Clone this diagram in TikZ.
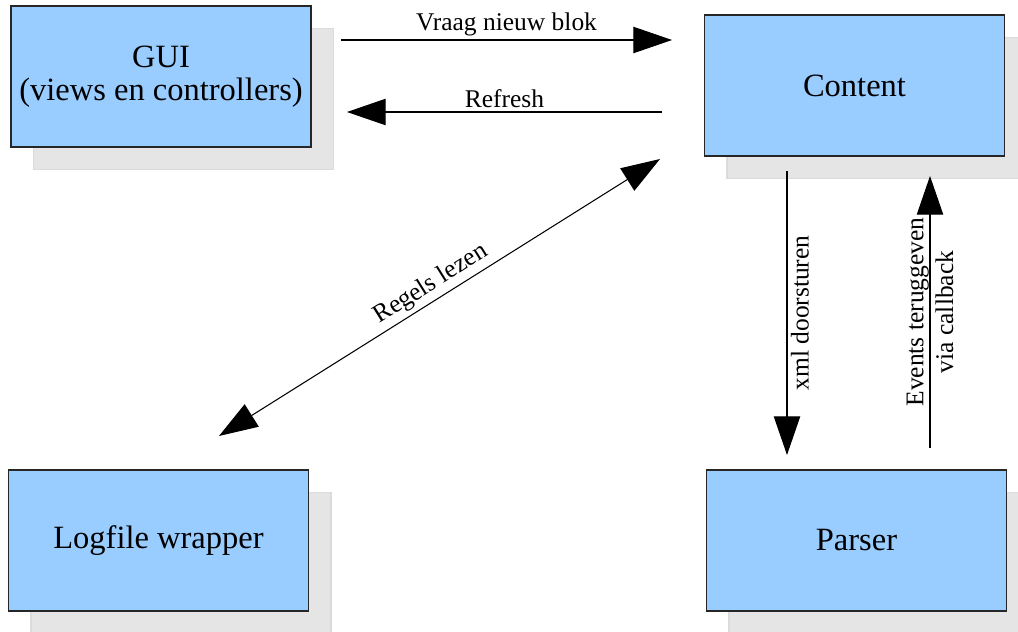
\documentclass[tikz,border=0pt]{standalone}
\usepackage{fontspec}
\setmainfont{Liberation Serif}
\usetikzlibrary{arrows.meta,shadows}
\definecolor{blokblauw}{HTML}{99CCFF}
\tikzset{
  blok/.style={draw=black!85, fill=blokblauw, line width=0.8pt, minimum width=6cm, minimum height=2.82cm, align=center, font=\fontsize{18.5}{19}\selectfont, drop shadow={shadow xshift=0.45cm, shadow yshift=-0.45cm, fill=black!10, draw=black!14, opacity=1}},
  pijl/.style={line width=0.6pt, -{Triangle[length=22pt,width=15pt]}},
  dubbelpijl/.style={line width=0.6pt, {Triangle[length=22pt,width=15pt]}-{Triangle[length=22pt,width=15pt]}},
  pijltekst/.style={font=\fontsize{14.5}{17}\selectfont, inner sep=2pt, align=center},
}
\begin{document}
\begin{tikzpicture}[x=0.02cm, y=-0.02cm]
\useasboundingbox (0,0) rectangle (1018,632);
\node[blok] (gui) at (161,76.5) {GUI\\(views en controllers)};
\node[blok] (content) at (854.5,85.5) {Content};
\node[blok] (logfile) at (158.5,540.5) {Logfile wrapper};
\node[blok] (parser) at (856.5,540.5) {Parser};
\coordinate (vraagA) at (341,40);
\coordinate (vraagB) at (672,40);
\coordinate (refreshA) at (662,112);
\coordinate (refreshB) at (347,112);
\coordinate (regelsA) at (219,436);
\coordinate (regelsB) at (660,159);
\coordinate (xmlA) at (787,171);
\coordinate (xmlB) at (787,455);
\coordinate (eventsA) at (930,448);
\coordinate (eventsB) at (930,176);
\draw[pijl] (vraagA) -- node[pijltekst, above] {Vraag nieuw blok} (vraagB);
\draw[pijl] (refreshA) -- node[pijltekst, above] {Refresh} (refreshB);
\draw[dubbelpijl] (regelsA) -- node[pijltekst, sloped, above] {Regels lezen} (regelsB);
\draw[pijl] (xmlA) -- node[pijltekst, rotate=90, anchor=north] {xml doorsturen} (xmlB);
\draw[pijl] (eventsA) -- node[pijltekst, sloped] {Events teruggeven\\via callback} (eventsB);
\end{tikzpicture}
\end{document}
